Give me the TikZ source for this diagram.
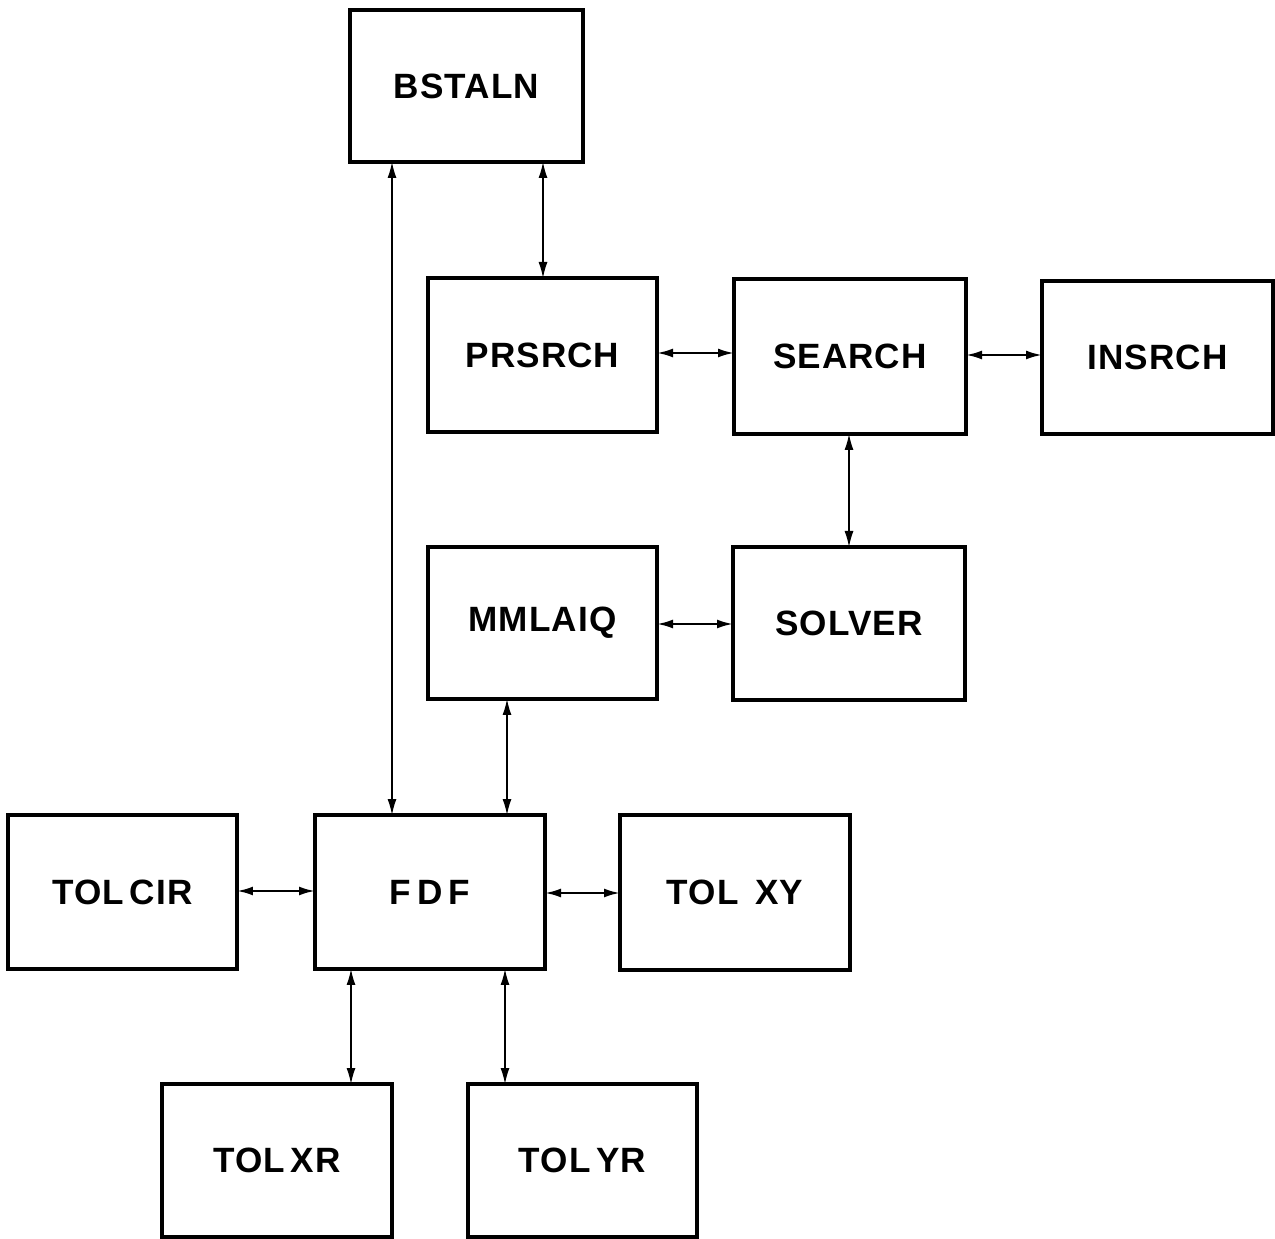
\documentclass[tikz,border=0pt]{standalone}
\usepackage{fontspec}
\setmainfont{Liberation Sans}[LetterSpace=3]
\usetikzlibrary{arrows.meta,calc}
\begin{document}
\begin{tikzpicture}[x=0.02cm,y=-0.02cm,
  box/.style 2 args={draw,line width=1.8pt,minimum width=#1*0.02cm,minimum height=#2*0.02cm,inner sep=0pt,outer sep=0pt,font=\fontsize{20}{24}\selectfont\bfseries},
  link/.style={line width=0.8pt,{Latex[length=0.32cm,width=0.18cm]}-{Latex[length=0.32cm,width=0.18cm]}},
  hlink/.style={link,line width=1.3pt}]
\useasboundingbox (0,0) rectangle (1275,1239);
\node[box={233}{152}] (bst) at (466.5,86) {BSTALN};
\node[box={229}{154}] (prs) at (542.5,355) {PRSRCH};
\node[box={232}{155}] (sea) at (850,356.5) {SEARCH};
\node[box={231}{153}] (ins) at (1157.5,357.5) {INSRCH};
\node[box={229}{152}] (mml) at (542.5,623) {MMLAIQ};
\node[box={232}{153}] (sol) at (849,623.5) {SOLVER};
\node[box={229}{154}] (cir) at (122.5,892) {TOL\,CIR};
\node[box={230}{154}] (fdf) at (430,892) {F\,D\,F};
\node[box={230}{155}] (txy) at (735,892.5) {TOL\ \,XY};
\node[box={230}{153}] (txr) at (277,1160.5) {TOL\,XR};
\node[box={229}{153}] (tyr) at (582.5,1160.5) {TOL\,YR};
% vertical connectors
\coordinate (v1) at (392,0);
\coordinate (v2) at (543,0);
\coordinate (v3) at (849,0);
\coordinate (v4) at (507,0);
\coordinate (v5) at (351,0);
\coordinate (v6) at (505,0);
\draw[link] (bst.south -| v1) -- (fdf.north -| v1);
\draw[link] (bst.south -| v2) -- (prs.north -| v2);
\draw[link] (sea.south -| v3) -- (sol.north -| v3);
\draw[link] (mml.south -| v4) -- (fdf.north -| v4);
\draw[link] (fdf.south -| v5) -- (txr.north -| v5);
\draw[link] (fdf.south -| v6) -- (tyr.north -| v6);
% horizontal connectors
\coordinate (h1) at (0,353);
\coordinate (h2) at (0,355);
\coordinate (h3) at (0,624);
\coordinate (h4) at (0,891);
\coordinate (h5) at (0,893);
\draw[hlink] (prs.east |- h1) -- (sea.west |- h1);
\draw[hlink] (sea.east |- h2) -- (ins.west |- h2);
\draw[hlink] (mml.east |- h3) -- (sol.west |- h3);
\draw[hlink] (cir.east |- h4) -- (fdf.west |- h4);
\draw[hlink] (fdf.east |- h5) -- (txy.west |- h5);
\end{tikzpicture}
\end{document}
